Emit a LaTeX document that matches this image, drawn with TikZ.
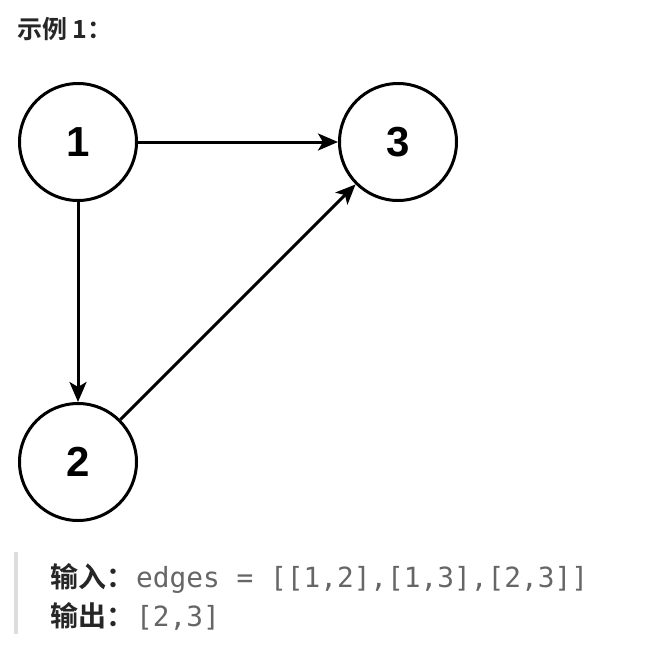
\documentclass[tikz,border=0pt]{standalone}
\usepackage{fontspec}
\setmainfont{Liberation Sans}
\newfontfamily\cjkbold[BoldFont={Noto Sans CJK SC Bold}]{Noto Sans CJK SC}
\newfontfamily\monof{DejaVu Sans Mono}
\usetikzlibrary{arrows.meta}
\definecolor{codegray}{HTML}{666666}
\definecolor{bargray}{HTML}{DDDDDD}
\begin{document}
\begin{tikzpicture}[x=1pt,y=-1pt,
  vertex/.style={circle,draw=black,line width=3pt,minimum size=117pt,inner sep=0pt,
    font=\fontsize{42}{42}\selectfont\bfseries},
  edge/.style={line width=3pt,-{Stealth[length=20pt,width=17pt,inset=5pt]}},
  txt/.style={anchor=base west,inner sep=0pt}]
\useasboundingbox (0,0) rectangle (648,648);
\fill[white] (0,0) rectangle (648,648);
\node[txt,font=\cjkbold\bfseries\fontsize{25}{25}\selectfont,text=black!85] (title) at (17,38) {示例 1：};
\node[vertex] (n1) at (78,142) {1};
\node[vertex] (n3) at (398,142) {3};
\node[vertex] (n2) at (78,462) {2};
\draw[edge] (n1) -- (n3);
\draw[edge] (n1) -- (n2);
\draw[edge] (n2) -- (n3);
\fill[bargray] (14,552) rectangle (18,634);
\node[txt,font=\cjkbold\bfseries\fontsize{28}{28}\selectfont,text=black!85] (in) at (50,587) {输入：};
\node[txt,font=\monof\fontsize{27.8}{28}\selectfont,text=codegray] (inv) at (136,587) {edges = [[1,2],[1,3],[2,3]]};
\node[txt,font=\cjkbold\bfseries\fontsize{28}{28}\selectfont,text=black!85] (out) at (50,626) {输出：};
\node[txt,font=\monof\fontsize{27.8}{28}\selectfont,text=codegray] (outv) at (136,626) {[2,3]};
\end{tikzpicture}
\end{document}
